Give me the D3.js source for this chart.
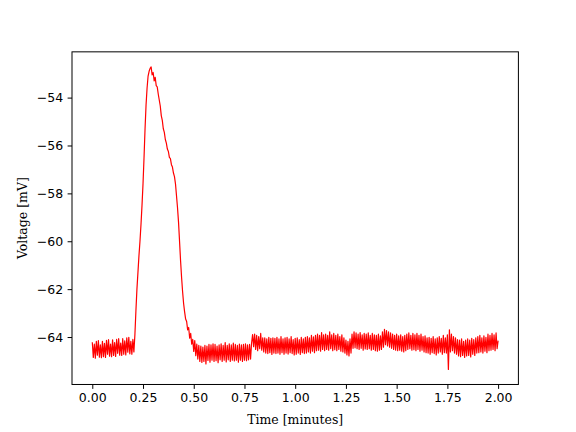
<!DOCTYPE html>
<html>
<head>
<meta charset="utf-8">
<script src="https://cdn.jsdelivr.net/npm/d3@7"></script>
<style>
  body { margin: 0; background: #fff; }
  .tick text { font-family: "DejaVu Sans", sans-serif; font-size: 12.5px; fill: #000; }
  .axis-label { font-family: "DejaVu Serif", serif; font-size: 12.5px; fill: #000; }
</style>
</head>
<body>
<div id="chart"></div>
<script>
// time step of the recording, in minutes
var timeStep = 0.005;

// voltage trace [mV], one value per time step from 0.00 to 2.00 min
var voltage = [
  -64.22, -64.85, -64.30, -64.88, -64.18, -64.76, -64.15, -64.84, -64.33, -64.86,
  -64.18, -64.82, -64.26, -64.85, -64.14, -64.72, -64.11, -64.80, -64.29, -64.82,
  -64.12, -64.77, -64.23, -64.81, -64.10, -64.68, -64.07, -64.76, -64.25, -64.77,
  -64.07, -64.72, -64.16, -64.75, -64.03, -64.63, -64.01, -64.70, -64.18, -64.72,
  -64.10, -64.62, -63.90, -62.90, -62.00, -61.30, -60.60, -60.00, -59.30, -58.50,
  -57.60, -56.50, -55.30, -54.30, -53.60, -53.10, -52.90, -52.78, -52.72, -53.05,
  -52.95, -53.30, -53.15, -53.50, -53.55, -53.85, -54.10, -54.35, -54.75, -54.95,
  -55.30, -55.45, -55.75, -55.90, -56.15, -56.25, -56.50, -56.55, -56.80, -56.90,
  -57.15, -57.30, -57.60, -58.10, -58.60, -59.20, -60.00, -60.80, -61.50, -62.10,
  -62.60, -62.95, -63.25, -63.35, -63.70, -63.60, -64.05, -63.85, -64.30, -64.10,
  -64.60, -64.15, -64.78, -64.30, -64.92, -64.35, -65.02, -64.38, -65.06, -64.42,
  -65.02, -64.35, -65.12, -64.38, -64.98, -64.31, -65.05, -64.33, -64.97, -64.28,
  -65.02, -64.31, -64.99, -64.38, -65.07, -64.33, -64.95, -64.28, -65.02, -64.35,
  -64.97, -64.23, -65.04, -64.35, -64.95, -64.28, -65.02, -64.33, -64.97, -64.25,
  -65.00, -64.31, -64.97, -64.35, -65.05, -64.29, -64.97, -64.33, -65.02, -64.31,
  -64.97, -64.28, -64.99, -64.33, -64.95, -64.31, -64.92, -64.25, -63.90, -64.40,
  -63.88, -64.52, -63.93, -64.57, -63.98, -64.49, -63.85, -64.55, -64.03, -64.62,
  -64.03, -64.67, -64.08, -64.69, -64.01, -64.65, -64.05, -64.73, -64.03, -64.67,
  -64.05, -64.69, -64.01, -64.67, -64.08, -64.72, -63.98, -64.65, -64.08, -64.72,
  -64.03, -64.67, -64.01, -64.71, -64.08, -64.65, -63.98, -64.69, -64.11, -64.75,
  -64.05, -64.72, -64.03, -64.67, -64.11, -64.73, -64.01, -64.65, -64.08, -64.69,
  -64.01, -64.67, -63.98, -64.62, -64.03, -64.67, -63.93, -64.59, -63.99, -64.65,
  -63.93, -64.57, -63.88, -64.55, -63.93, -64.59, -63.81, -64.52, -63.91, -64.57,
  -63.88, -64.52, -63.93, -64.55, -63.78, -64.49, -63.91, -64.57, -63.85, -64.53,
  -63.93, -64.57, -63.88, -64.52, -63.98, -64.59, -63.91, -64.62, -64.03, -64.67,
  -64.13, -64.75, -64.18, -64.79, -64.08, -64.67, -63.88, -64.47, -63.78, -64.45,
  -63.83, -64.49, -63.88, -64.52, -63.81, -64.47, -63.91, -64.55, -63.85, -64.50,
  -63.88, -64.52, -63.83, -64.49, -63.93, -64.55, -63.85, -64.52, -63.91, -64.57,
  -63.93, -64.59, -63.88, -64.55, -63.95, -64.52, -63.78, -64.42, -63.68, -64.32,
  -63.73, -64.37, -63.78, -64.42, -63.83, -64.47, -63.88, -64.52, -63.93, -64.55,
  -63.88, -64.57, -63.95, -64.55, -63.91, -64.59, -63.98, -64.62, -63.93, -64.57,
  -63.88, -64.52, -63.83, -64.49, -63.93, -64.55, -63.85, -64.53, -63.91, -64.57,
  -63.85, -64.52, -63.93, -64.59, -63.88, -64.55, -63.98, -64.62, -63.95, -64.65,
  -64.03, -64.67, -64.01, -64.72, -64.05, -64.65, -63.98, -64.69, -64.08, -64.75,
  -64.03, -64.67, -63.98, -64.62, -64.05, -64.72, -63.93, -64.65, -64.03, -64.67,
  -63.91, -65.35, -63.70, -64.62, -63.88, -64.57, -63.98, -64.67, -64.03, -64.72,
  -64.11, -64.79, -64.13, -64.82, -64.08, -64.77, -64.18, -64.85, -64.13, -64.79,
  -64.08, -64.77, -64.13, -64.83, -64.05, -64.72, -64.11, -64.77, -64.03, -64.67,
  -63.98, -64.65, -63.93, -64.62, -64.03, -64.67, -63.95, -64.59, -64.01, -64.65,
  -63.88, -64.57, -63.93, -64.55, -63.85, -64.52, -63.91, -64.57, -63.83, -64.49,
  -64.15
];

var xTicks = [0, 0.25, 0.5, 0.75, 1.0, 1.25, 1.5, 1.75, 2.0];
var yTicks = [-64, -62, -60, -58, -56, -54];

var width = 576, height = 432;
var margin = {left: 72, right: 57.6, top: 51.84, bottom: 47.52};

var trace = voltage.map((v, i) => ({t: i * timeStep, v: v}));

var svg = d3.select('#chart')
  .append('svg')
  .attr('width', width)
  .attr('height', height);

// matplotlib style 5% margins
var tExt = d3.extent(trace, d => d.t);
var vExt = d3.extent(trace, d => d.v);
var tPad = (tExt[1] - tExt[0]) * 0.05;
var vPad = (vExt[1] - vExt[0]) * 0.05;

var x = d3.scaleLinear()
  .domain([tExt[0] - tPad, tExt[1] + tPad])
  .range([margin.left, width - margin.right]);

var y = d3.scaleLinear()
  .domain([vExt[0] - vPad, vExt[1] + vPad])
  .range([height - margin.bottom, margin.top]);

var line = d3.line()
  .x(d => x(d.t))
  .y(d => y(d.v));

svg.append('path')
  .datum(trace)
  .attr('d', line)
  .attr('fill', 'none')
  .attr('stroke', 'red')
  .attr('stroke-width', 1.2)
  .attr('stroke-linejoin', 'round');

// frame
svg.append('rect')
  .attr('x', margin.left)
  .attr('y', margin.top)
  .attr('width', width - margin.left - margin.right)
  .attr('height', height - margin.top - margin.bottom)
  .attr('fill', 'none')
  .attr('stroke', '#000')
  .attr('stroke-width', 1);

var xAxis = d3.axisBottom(x)
  .tickValues(xTicks)
  .tickFormat(d3.format('.2f'))
  .tickSize(4.4)
  .tickPadding(4.4);

svg.append('g')
  .attr('transform', 'translate(0,' + (height - margin.bottom) + ')')
  .call(xAxis)
  .call(g => g.select('.domain').remove())
  .call(g => g.selectAll('.tick line').attr('stroke-width', 1));

var yAxis = d3.axisLeft(y)
  .tickValues(yTicks)
  .tickFormat(d3.format('d'))
  .tickSize(4.4)
  .tickPadding(4.4);

svg.append('g')
  .attr('transform', 'translate(' + margin.left + ',0)')
  .call(yAxis)
  .call(g => g.select('.domain').remove())
  .call(g => g.selectAll('.tick line').attr('stroke-width', 1));

svg.append('text')
  .attr('class', 'axis-label')
  .attr('x', (margin.left + width - margin.right) / 2)
  .attr('y', 424)
  .attr('text-anchor', 'middle')
  .text('Time [minutes]');

svg.append('text')
  .attr('class', 'axis-label')
  .attr('transform', 'translate(27,' + ((margin.top + height - margin.bottom) / 2) + ') rotate(-90)')
  .attr('text-anchor', 'middle')
  .text('Voltage [mV]');
</script>
</body>
</html>
